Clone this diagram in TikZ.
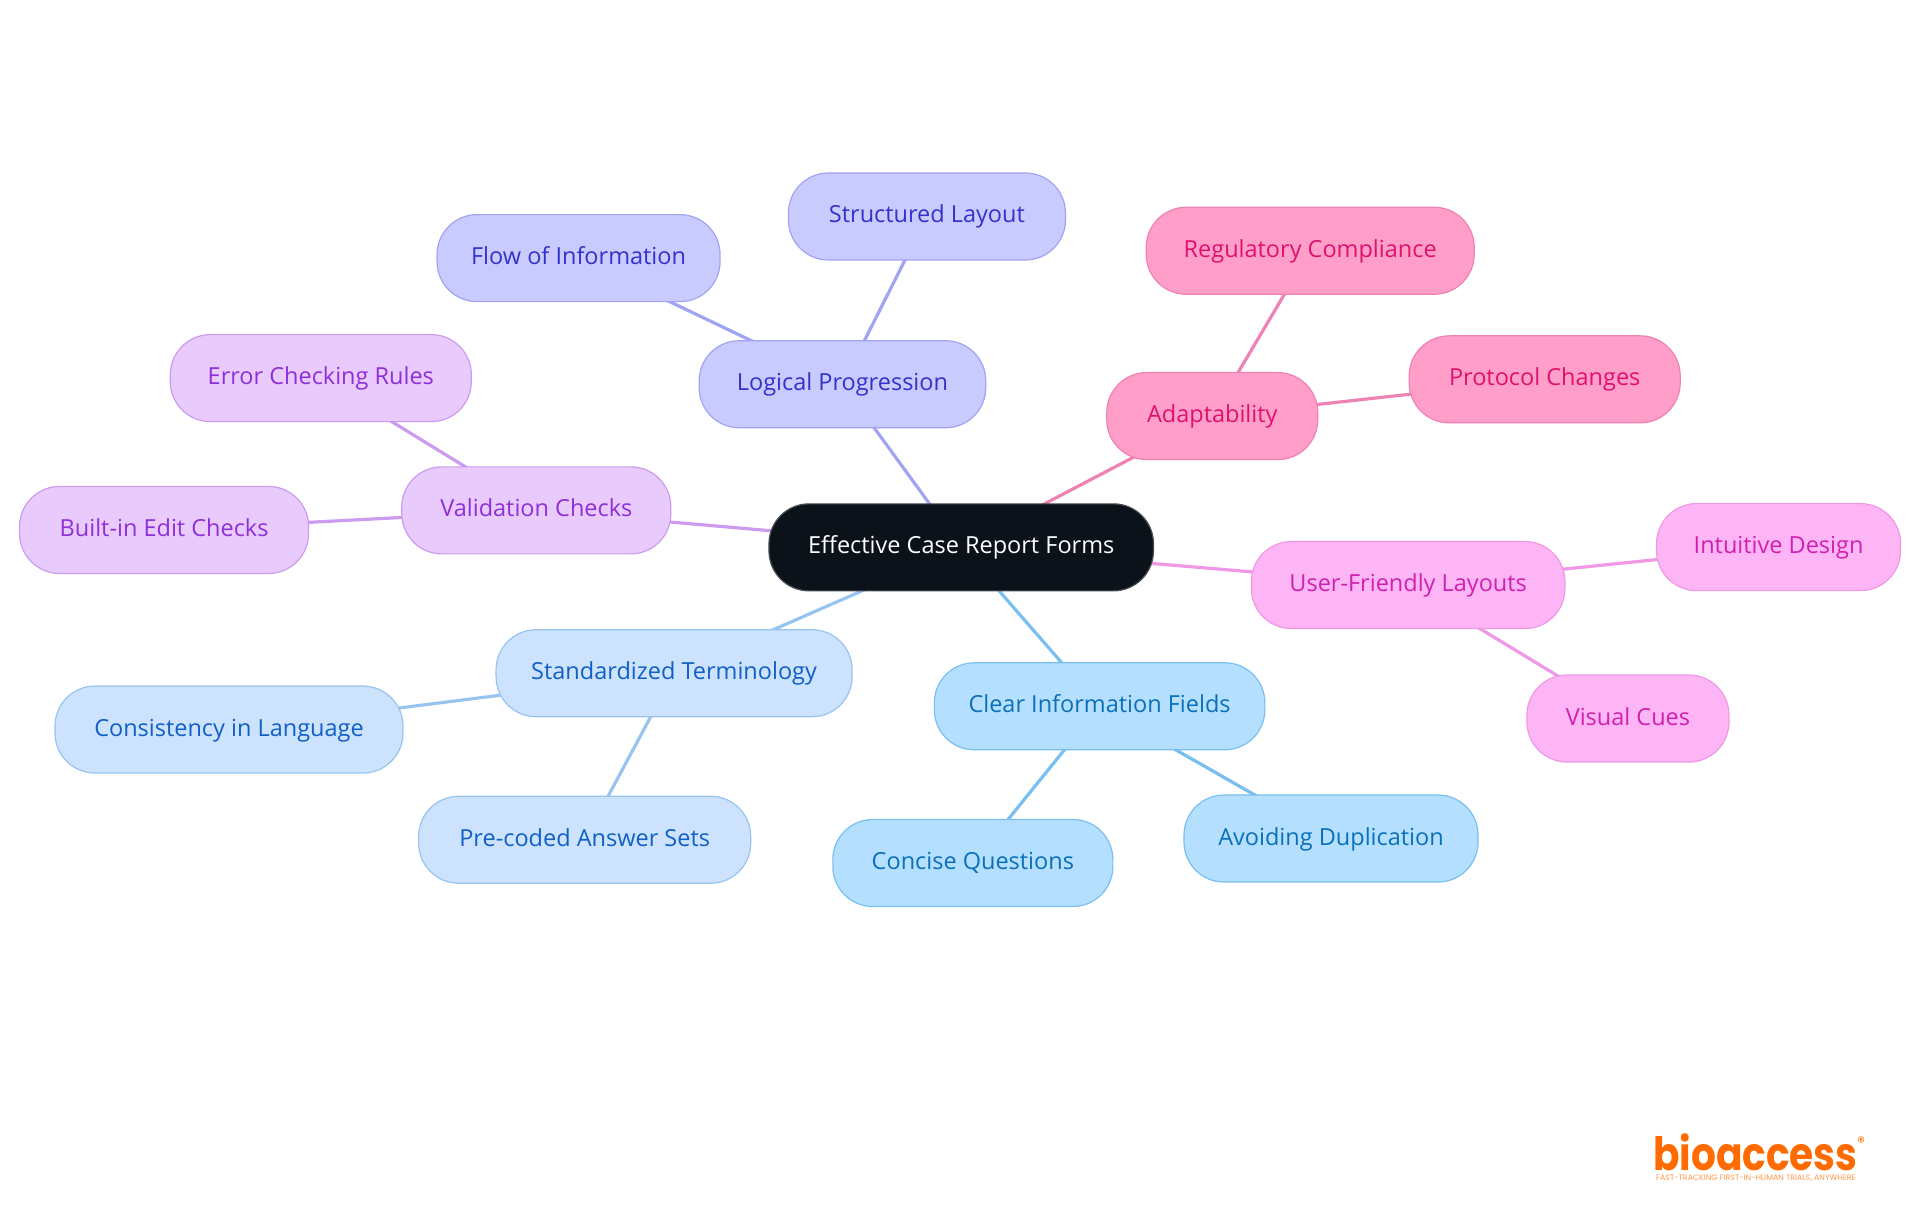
\documentclass[tikz,border=0pt]{standalone}
\usepackage{fontspec}
\setmainfont{Open Sans}
\newfontfamily\logofont{Poppins}
\usetikzlibrary{backgrounds}
\tikzset{
  box/.style={rectangle,rounded corners=40pt,line width=1.2pt,inner sep=0pt,outer sep=0pt,minimum height=87pt,
    text height=18pt,text depth=5pt,font=\fontsize{23.5}{26}\selectfont},
  rootBox/.style={box,fill=gRoot,draw=gRootLine,text=white},
  indigoBox/.style={box,fill=gIndigo,draw=gIndigoLine,text=gIndigoText},
  pinkBox/.style={box,fill=gPink,draw=gPinkLine,text=gPinkText},
  magentaBox/.style={box,fill=gMagenta,draw=gMagentaLine,text=gMagentaText},
  skyBox/.style={box,fill=gSky,draw=gSkyLine,text=gSkyText},
  paleBox/.style={box,fill=gPale,draw=gPaleLine,text=gPaleText},
  violetBox/.style={box,fill=gViolet,draw=gVioletLine,text=gVioletText},
  link/.style={line width=3.2pt}
}
\begin{document}
\begin{tikzpicture}[x=1.2245pt,y=-1.2245pt]
\definecolor{gRoot}{HTML}{0C121A}
\definecolor{gRootLine}{HTML}{4A4F55}
\definecolor{gIndigo}{HTML}{C9CAFE}
\definecolor{gIndigoLine}{HTML}{A0A4F2}
\definecolor{gIndigoText}{HTML}{3333CC}
\definecolor{gPink}{HTML}{FF9FC9}
\definecolor{gPinkLine}{HTML}{EE82B5}
\definecolor{gPinkText}{HTML}{E0106E}
\definecolor{gMagenta}{HTML}{FDB5F5}
\definecolor{gMagentaLine}{HTML}{F098E5}
\definecolor{gMagentaText}{HTML}{D020B0}
\definecolor{gSky}{HTML}{B5DFFF}
\definecolor{gSkyLine}{HTML}{79BFF0}
\definecolor{gSkyText}{HTML}{0A70B8}
\definecolor{gPale}{HTML}{CCE2FD}
\definecolor{gPaleLine}{HTML}{98C4F0}
\definecolor{gPaleText}{HTML}{1060C8}
\definecolor{gViolet}{HTML}{E8CAFD}
\definecolor{gVioletLine}{HTML}{CC9BF0}
\definecolor{gVioletText}{HTML}{8F2FD8}
\definecolor{gLogo}{HTML}{FF6B00}
\useasboundingbox (0,0) rectangle (1568,992.25);
\node[rootBox,minimum width=384.5pt] (root) at (785,447) {Effective Case Report Forms};
\node[indigoBox,minimum width=286.5pt] (logical) at (688,313.8) {Logical Progression};
\node[indigoBox,minimum width=277pt] (layout) at (757,176.8) {Structured Layout};
\node[indigoBox,minimum width=283pt] (flow) at (472.5,210.8) {Flow of Information};
\node[pinkBox,minimum width=211pt] (adapt) at (990,339.8) {Adaptability};
\node[pinkBox,minimum width=328pt] (regul) at (1070,204.8) {Regulatory Compliance};
\node[pinkBox,minimum width=271pt] (protocol) at (1261.5,309.8) {Protocol Changes};
\node[magentaBox,minimum width=313.5pt] (user) at (1150,477.8) {User-Friendly Layouts};
\node[magentaBox,minimum width=244pt] (intuitive) at (1452.5,446.8) {Intuitive Design};
\node[magentaBox,minimum width=202pt] (visual) at (1329.5,586.8) {Visual Cues};
\node[skyBox,minimum width=330.5pt] (clear) at (898,576.8) {Clear Information Fields};
\node[skyBox,minimum width=294pt] (avoid) at (1087,684.8) {Avoiding Duplication};
\node[skyBox,minimum width=280pt] (concise) at (794.5,704.8) {Concise Questions};
\node[paleBox,minimum width=356pt] (standard) at (550.5,549.8) {Standardized Terminology};
\node[paleBox,minimum width=348pt] (consist) at (187,595.8) {Consistency in Language};
\node[paleBox,minimum width=332pt] (precoded) at (477.5,685.8) {Pre-coded Answer Sets};
\node[violetBox,minimum width=269pt] (valid) at (438,416.8) {Validation Checks};
\node[violetBox,minimum width=301pt] (error) at (262,308.8) {Error Checking Rules};
\node[violetBox,minimum width=289pt] (builtin) at (134,432.8) {Built-in Edit Checks};
\begin{scope}[on background layer]
\draw[link,gIndigoLine] (root.center) -- (logical.center);
\draw[link,gIndigoLine] (logical.center) -- (layout.center);
\draw[link,gIndigoLine] (logical.center) -- (flow.center);
\draw[link,gPinkLine] (root.center) -- (adapt.center);
\draw[link,gPinkLine] (adapt.center) -- (regul.center);
\draw[link,gPinkLine] (adapt.center) -- (protocol.center);
\draw[link,gMagentaLine] (root.center) -- (user.center);
\draw[link,gMagentaLine] (user.center) -- (intuitive.center);
\draw[link,gMagentaLine] (user.center) -- (visual.center);
\draw[link,gSkyLine] (root.center) -- (clear.center);
\draw[link,gSkyLine] (clear.center) -- (avoid.center);
\draw[link,gSkyLine] (clear.center) -- (concise.center);
\draw[link,gPaleLine] (root.center) -- (standard.center);
\draw[link,gPaleLine] (standard.center) -- (consist.center);
\draw[link,gPaleLine] (standard.center) -- (precoded.center);
\draw[link,gVioletLine] (root.center) -- (valid.center);
\draw[link,gVioletLine] (valid.center) -- (error.center);
\draw[link,gVioletLine] (valid.center) -- (builtin.center);
\end{scope}
\node[text=gLogo,font=\logofont\bfseries\fontsize{46}{46}\selectfont,inner sep=0pt,anchor=base,xscale=.85,transform shape] (brand) at (1433.5,955.5) {bioaccess};
\node[text=gLogo,font=\logofont\fontsize{15}{15}\selectfont,inner sep=0pt] (mark) at (1520,933) {®};
\node[text=gLogo!70,font=\logofont\fontsize{7.9}{8}\selectfont,inner sep=0pt,anchor=north] (tagline) at (1434,959.5) {FAST-TRACKING FIRST-IN-HUMAN TRIALS, ANYWHERE};
\end{tikzpicture}
\end{document}
